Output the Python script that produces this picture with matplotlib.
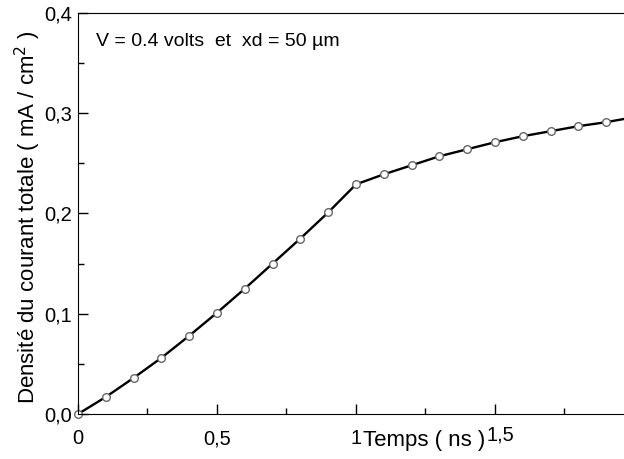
import matplotlib
matplotlib.use('Agg')
from matplotlib import pyplot as plt
from matplotlib.ticker import MultipleLocator, FuncFormatter
import matplotlib.transforms as mtransforms

temps = [0.0, 0.1, 0.2, 0.3, 0.4, 0.5, 0.6, 0.7, 0.8, 0.9, 1.0,
         1.1, 1.2, 1.3, 1.4, 1.5, 1.6, 1.7, 1.8, 1.9, 2.0]
densite = [0.0, 0.017, 0.036, 0.056, 0.078, 0.101, 0.125, 0.150, 0.175, 0.201, 0.229,
           0.239, 0.248, 0.257, 0.264, 0.271, 0.277, 0.282, 0.287, 0.291, 0.296]

plt.rcParams['font.family'] = ['Liberation Sans', 'DejaVu Sans']

fig = plt.figure(figsize=(6.24, 4.59), dpi=100)
ax = fig.add_axes([0.125, 0.098, 0.891, 0.874])

ax.plot(temps, densite, '-', color='black', lw=1.7, marker='o', ms=5.5,
        mfc='white', mec='#666666', mew=1.0, clip_on=False)

ax.set_xlim(0, 2)
ax.set_ylim(0, 0.4)
ax.spines['right'].set_visible(False)

ax.xaxis.set_major_locator(MultipleLocator(0.5))
ax.xaxis.set_minor_locator(MultipleLocator(0.25))
ax.yaxis.set_major_locator(MultipleLocator(0.1))
ax.yaxis.set_minor_locator(MultipleLocator(0.05))

def virgule(v, pos):
    if v > 1.9:
        return ''
    if abs(v - round(v)) < 1e-9:
        return '%d' % round(v)
    return ('%.1f' % v).replace('.', ',')

def virgule_y(v, pos):
    return ('%.1f' % v).replace('.', ',')

ax.xaxis.set_major_formatter(FuncFormatter(virgule))
ax.yaxis.set_major_formatter(FuncFormatter(virgule_y))

ax.tick_params(which='both', direction='in', labelsize=14.5)
ax.tick_params(which='major', length=7, width=1)
ax.tick_params(which='minor', length=4, width=1)
ax.tick_params(axis='x', pad=11)
ax.tick_params(axis='y', pad=4)

# le label 1,5 est un peu remonte dans l'original
fig.canvas.draw()
for lab in ax.get_xticklabels():
    if lab.get_text() == '1,5':
        lab.set_transform(lab.get_transform() +
                          mtransforms.ScaledTranslation(4/72, 3/72, fig.dpi_scale_trans))

ax.set_xlabel('Temps ( ns )', fontsize=16)
ax.xaxis.set_label_coords(0.622, -0.04)
ax.set_ylabel('Densité du courant totale ( mA / cm$^2$ )', fontsize=16)
ax.yaxis.set_label_coords(-0.063, 0.49)

ax.text(0.032, 0.928, 'V = 0.4 volts  et  xd = 50 µm', transform=ax.transAxes,
        fontsize=14, va='center', ha='left')

plt.savefig('out.png', dpi=100)
